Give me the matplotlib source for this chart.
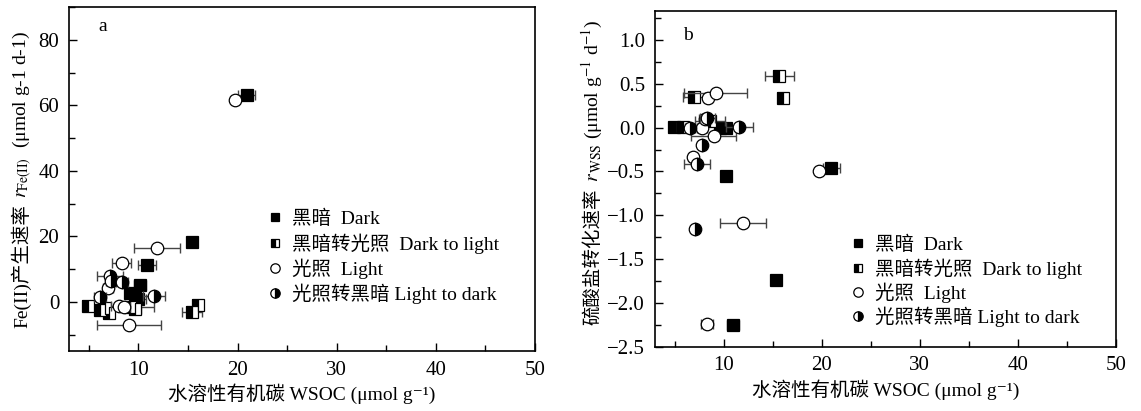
import matplotlib
matplotlib.use('Agg')
import matplotlib.pyplot as plt
from matplotlib.ticker import MultipleLocator

plt.rcParams['font.family'] = ['Liberation Serif', 'Noto Sans CJK SC', 'DejaVu Serif']
plt.rcParams['mathtext.fontset'] = 'stix'
plt.rcParams['font.size'] = 14

# panel a: Fe(II) production rate vs WSOC
a_dark_x = [20.9, 15.4, 10.9, 10.2, 9.1, 10.0, 9.7]
a_dark_y = [63.0, 18.3, 11.1, 5.1, 2.6, 1.0, 1.8]
a_dark_err = [0.9, 0.0, 0.9, 0.6, 0.5, 0.8, 0.4]

a_d2l_x = [4.9, 6.1, 6.6, 9.1, 9.7, 15.4, 16.0, 7.0]
a_d2l_y = [-1.3, -2.6, -2.0, -1.7, -2.2, -3.2, -1.0, -3.5]
a_d2l_err = [0.3, 0.5, 0.4, 2.5, 0.6, 1.0, 0.0, 0.5]

a_light_x = [19.7, 11.9, 8.3, 8.0, 8.5, 9.05, 6.9]
a_light_y = [61.5, 16.5, 12.0, -1.3, -1.7, -7.2, 4.2]
a_light_err = [0.3, 2.3, 1.0, 0.8, 0.6, 3.2, 0.5]

a_l2d_x = [7.1, 8.3, 11.6, 6.1, 7.2]
a_l2d_y = [7.9, 6.2, 1.8, 1.5, 6.5]
a_l2d_err = [1.3, 0.6, 1.1, 0.6, 0.5]

# panel b: sulfate conversion rate vs WSOC
b_dark_x = [4.9, 9.65, 10.2, 10.3, 21.0, 15.3, 10.95]
b_dark_y = [0.01, 0.0, 0.0, -0.55, -0.46, -1.74, -2.25]
b_dark_err = [0.3, 0.5, 0.4, 0.5, 0.9, 0.3, 0.6]

b_d2l_x = [7.0, 15.7, 16.1, 5.9, 8.6]
b_d2l_y = [0.35, 0.59, 0.34, 0.01, 0.08]
b_d2l_err = [1.1, 1.5, 0.0, 0.6, 1.5]

b_light_x = [8.45, 9.2, 7.8, 8.1, 9.0, 6.9, 19.7, 12.0, 8.3]
b_light_y = [0.34, 0.39, 0.0, 0.1, -0.1, -0.33, -0.49, -1.09, -2.24]
b_light_err = [0.4, 3.2, 0.5, 0.6, 2.3, 0.4, 0.3, 2.35, 0.6]

b_l2d_x = [6.6, 8.35, 11.6, 7.8, 7.3, 7.1]
b_l2d_y = [0.0, 0.11, 0.01, -0.2, -0.42, -1.16]
b_l2d_err = [0.5, 0.8, 1.4, 0.3, 1.3, 0.0]

labels = ['黑暗  Dark', '黑暗转光照  Dark to light', '光照  Light', '光照转黑暗 Light to dark']
styles = [dict(marker='s', ms=8, mfc='black', mec='black'),
          dict(marker='s', ms=8, fillstyle='left', mfc='black', mfcalt='white', mec='black'),
          dict(marker='o', ms=9, mfc='white', mec='black'),
          dict(marker='o', ms=9, fillstyle='right', mfc='black', mfcalt='white', mec='black')]


def draw_panel(ax, series):
    for (x, y, err), lab, st in zip(series, labels, styles):
        ax.errorbar(x, y, xerr=err, fmt='none', ecolor='#444444', elinewidth=1, capsize=3.5, capthick=1)
        ax.plot(x, y, ls='none', mew=0.9, label=lab, **st)
    ax.set_xlim(3, 50)
    ax.xaxis.set_major_locator(MultipleLocator(10))
    ax.xaxis.set_minor_locator(MultipleLocator(5))
    ax.tick_params(which='both', direction='in', top=False, right=False, labelsize=15)
    ax.tick_params(which='major', length=6, width=1)
    ax.tick_params(axis='x', which='major', pad=7)
    ax.tick_params(axis='y', which='major', pad=7)
    ax.tick_params(which='minor', length=4, width=1)
    for s in ax.spines.values():
        s.set_linewidth(1.2)


def stacked_ylabel(fig, x, yc, parts):
    texts = [fig.text(x, 0, s, rotation=90, rotation_mode='anchor', ha='left', va='baseline', **kw)
             for s, kw in parts]
    fig.canvas.draw()
    r = fig.canvas.get_renderer()
    hs = [t.get_window_extent(r).height / fig.bbox.height for t in texts]
    gap = 6 / fig.bbox.height
    y = yc - (sum(hs) + gap * (len(hs) - 1)) / 2
    for t, h in zip(texts, hs):
        t.set_y(y)
        y += h + gap


fig = plt.figure(figsize=(11.41, 4.11), dpi=100)
ax1 = fig.add_axes([0.0605, 0.146, 0.4084, 0.837])
ax2 = fig.add_axes([0.574, 0.1564, 0.4038, 0.8168])

draw_panel(ax1, [(a_dark_x, a_dark_y, a_dark_err), (a_d2l_x, a_d2l_y, a_d2l_err),
                 (a_light_x, a_light_y, a_light_err), (a_l2d_x, a_l2d_y, a_l2d_err)])
ax1.set_ylim(-15, 90)
ax1.yaxis.set_major_locator(MultipleLocator(20))
ax1.yaxis.set_minor_locator(MultipleLocator(10))
ax1.text(0.062, 0.93, 'a', transform=ax1.transAxes, fontsize=14)
ax1.set_xlabel('水溶性有机碳 WSOC (μmol g⁻¹)', fontsize=14, labelpad=3)
ax1.legend(loc='upper left', bbox_to_anchor=(0.425, 0.41), frameon=False, fontsize=14,
           handlelength=0.8, handletextpad=0.5, borderpad=0, borderaxespad=0, labelspacing=0.25,
           markerscale=0.75)

draw_panel(ax2, [(b_dark_x, b_dark_y, b_dark_err), (b_d2l_x, b_d2l_y, b_d2l_err),
                 (b_light_x, b_light_y, b_light_err), (b_l2d_x, b_l2d_y, b_l2d_err)])
ax2.set_ylim(-2.5, 1.33)
ax2.yaxis.set_major_locator(MultipleLocator(0.5))
ax2.yaxis.set_minor_locator(MultipleLocator(0.25))
ax2.yaxis.set_major_formatter(matplotlib.ticker.FuncFormatter(lambda v, p: f'{v:.1f}'.replace('-', '−')))
ax2.text(0.062, 0.915, 'b', transform=ax2.transAxes, fontsize=14)
ax2.set_xlabel('水溶性有机碳 WSOC (μmol g⁻¹)', fontsize=14, labelpad=3)
ax2.legend(loc='upper left', bbox_to_anchor=(0.423, 0.33), frameon=False, fontsize=14,
           handlelength=0.8, handletextpad=0.5, borderpad=0, borderaxespad=0, labelspacing=0.2,
           markerscale=0.75)

stacked_ylabel(fig, 0.0237, 0.562, [('Fe(II)产生速率', dict(fontsize=14)),
                                    (r'$r_{\mathrm{Fe(II)}}$  (μmol g-1 d-1)', dict(fontsize=14))])
stacked_ylabel(fig, 0.5245, 0.58, [('硫酸盐转化速率', dict(fontsize=14)),
                                   (r'$r_{\,\mathrm{WSS}}$ (μmol g$^{-1}$ d$^{-1}$)', dict(fontsize=14))])

fig.savefig('out.png', dpi=100)
